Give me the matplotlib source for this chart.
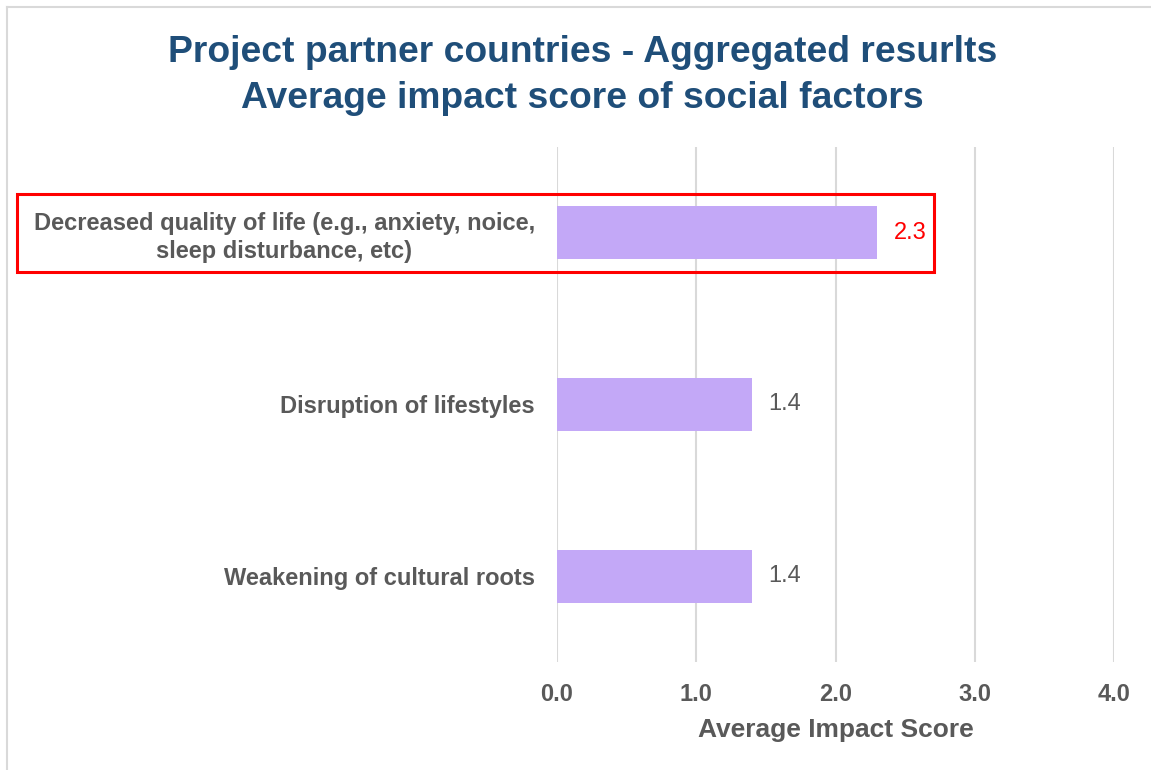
import matplotlib.pyplot as plt
from matplotlib.patches import Rectangle
from matplotlib.lines import Line2D

plt.rcParams['font.family'] = ['Liberation Sans', 'DejaVu Sans']

categories = ['Decreased quality of life (e.g., anxiety, noice,\nsleep disturbance, etc)',
              'Disruption of lifestyles',
              'Weakening of cultural roots']
scores = [2.3, 1.4, 1.4]
ticks = [0.0, 1.0, 2.0, 3.0, 4.0]

grey = '#595959'
fig = plt.figure(figsize=(11.51, 7.70), dpi=100)
W, H = 1151, 770
ax = fig.add_axes([557 / W, 1 - 662 / H, 557 / W, 515 / H])

ypos = list(range(len(categories)))
ax.barh(ypos, scores, height=0.31, color='#c3a8f7', zorder=3)
ax.set_xlim(0, 4)
ax.set_ylim(2.5, -0.5)
ax.set_xticks(ticks)
ax.set_xticklabels(['%.1f' % t for t in ticks], fontsize=17, fontweight='bold', color=grey)
ax.set_yticks(ypos)
ax.set_yticklabels(categories, fontsize=17, fontweight='bold', color=grey,
                   ha='right', multialignment='center', linespacing=1.25)
ax.tick_params(axis='y', length=0, pad=16)
ax.tick_params(axis='x', length=0, pad=15)
ax.grid(axis='x', color='#d9d9d9', linewidth=1.5, zorder=0)
for s in ax.spines.values():
    s.set_visible(False)
ax.set_xlabel('Average Impact Score', fontsize=19, fontweight='bold', color=grey, labelpad=9)

for i, v in enumerate(scores):
    ax.text(v + 0.12, i, '%.1f' % v, va='center', ha='left', fontsize=17,
            color='red' if i == 0 else grey)

# highlight box around the first row
ax.add_patch(Rectangle((-3.878, -0.226), 3.878 + 2.707, 0.452, fill=False,
                       edgecolor='red', linewidth=2.2, clip_on=False, zorder=4))

fig.text(0.506, 1 - 53 / H, 'Project partner countries - Aggregated resurlts',
         ha='center', va='center', fontsize=26.8, fontweight='bold', color='#1f4e79')
fig.text(0.506, 1 - 98 / H, 'Average impact score of social factors',
         ha='center', va='center', fontsize=26.8, fontweight='bold', color='#1f4e79')

# outer frame (left and top edges)
fig.add_artist(Line2D([7 / W, 7 / W], [0, 1 - 7 / H], transform=fig.transFigure, color='#d9d9d9', lw=1.5))
fig.add_artist(Line2D([7 / W, 1], [1 - 7 / H, 1 - 7 / H], transform=fig.transFigure, color='#d9d9d9', lw=1.5))

fig.savefig('out.png', dpi=100)
